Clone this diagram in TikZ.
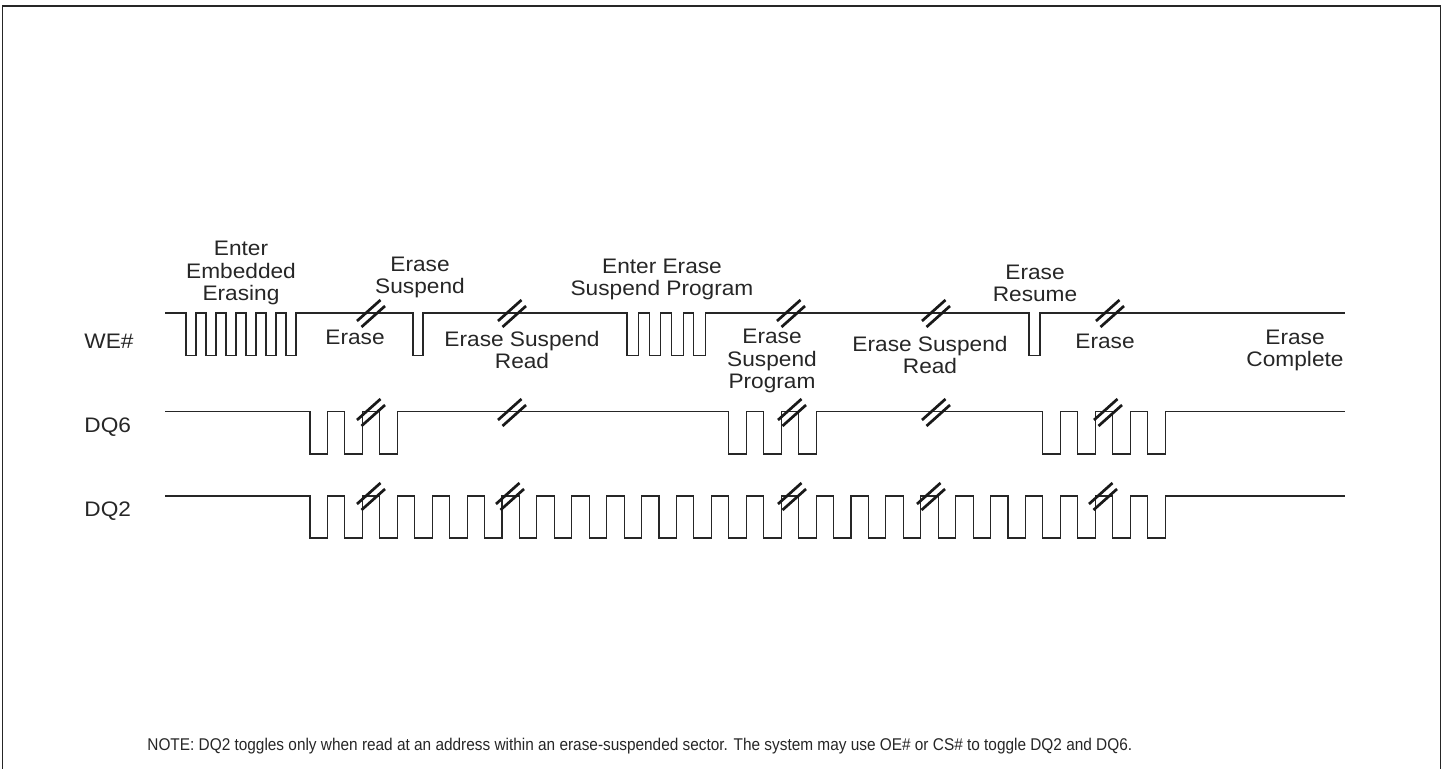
\documentclass[tikz,border=0pt]{standalone}
\usepackage{fontspec}
\setmainfont{Liberation Sans}[FakeStretch=1.08]
\newfontfamily\notefont{Liberation Sans}[FakeStretch=0.905]
\usepackage{tikz}

\begin{document}
\begin{tikzpicture}
    [x=0.5pt, y=-0.5pt,
    wave/.style={draw=black!85, line width=0.55pt},
    breakmark/.style={draw=black!90, line width=1.35pt},
    textnode/.style={font=\fontsize{10.5}{11.3}\selectfont, align=center, inner sep=0pt, anchor=base, text=black!85},
    signode/.style={font=\fontsize{10.5}{11.3}\selectfont, inner sep=0pt, anchor=base west, text=black!85},]

    \useasboundingbox (0,0) rectangle (1445,769);

    %Frame
    \draw[black!85, line width=0.5pt] (2,790) -- (2,6) -- (1440.5,6) -- (1440.5,790);
    \draw[black!85, line width=1.2pt] (2,6) -- (1440.5,6);

    %Signal names
    \node[signode](WE)  at (84,348.5) {WE\#};
    \node[signode](DQ6) at (84,432.5) {DQ6};
    \node[signode](DQ2) at (84,516.5) {DQ2};

    %Waveforms
    \draw[wave] (165,313)
        \foreach \x in {186,206,...,286} {-- (\x,313) -- (\x,355.5) -- (\x+10,355.5) -- (\x+10,313)}
        -- (413,313) -- (413,355.5) -- (423,355.5) -- (423,313)
        \foreach \x in {627,649.3,...,694} {-- (\x,313) -- (\x,355.5) -- (\x+11.5,355.5) -- (\x+11.5,313)}
        -- (1029,313) -- (1029,355.5) -- (1040,355.5) -- (1040,313)
        -- (1345,313);
    \draw[wave] (165,411.5)
        \foreach \k in {0,2,4,24,26,28,42,44,46,48}
            {-- ({310+\k*17.45},411.5) -- ({310+\k*17.45},454) -- ({310+(\k+1)*17.45},454) -- ({310+(\k+1)*17.45},411.5)}
        -- (1345,411.5);
    \draw[wave] (165,496)
        \foreach \k in {0,2,...,48}
            {-- ({310+\k*17.45},496) -- ({310+\k*17.45},538) -- ({310+(\k+1)*17.45},538) -- ({310+(\k+1)*17.45},496)}
        -- (1345,496);

    %Breaks
    \foreach \x/\y in {371/313, 512/313, 791/313, 936/313, 1110/313,
                       371/412, 512/412, 792/412, 936/412, 1108/412,
                       371/496, 510/496, 792/496, 931/496, 1103/496} {
        \draw[breakmark] (\x-14,\y+8) -- (\x+9.5,\y-13);
        \draw[breakmark] (\x-9.5,\y+14) -- (\x+14,\y-7);
    }

    %Labels (base = last line)
    \node[textnode](enter) at (241,301) {Enter\\Embedded\\Erasing};
    \node[textnode](suspend) at (420,294) {Erase\\Suspend};
    \node[textnode](erase1) at (355,345) {Erase};
    \node[textnode](read1) at (522,369) {Erase Suspend\\Read};
    \node[textnode](enterprog) at (662,296) {Enter Erase\\Suspend Program};
    \node[textnode](prog) at (772,389) {Erase\\Suspend\\Program};
    \node[textnode](read2) at (930,374) {Erase Suspend\\Read};
    \node[textnode](resume) at (1035,302) {Erase\\Resume};
    \node[textnode](erase2) at (1105,349) {Erase};
    \node[textnode](complete) at (1295,367) {Erase\\Complete};

    %Note
    \node[anchor=base west, inner sep=0pt, font=\notefont\fontsize{8.5}{10}\selectfont, text=black!85](note) at (147,750)
        {NOTE: DQ2 toggles only when read at an address within an erase-suspended sector. The system may use OE\# or CS\# to toggle DQ2 and DQ6.};

\end{tikzpicture}
\end{document}
